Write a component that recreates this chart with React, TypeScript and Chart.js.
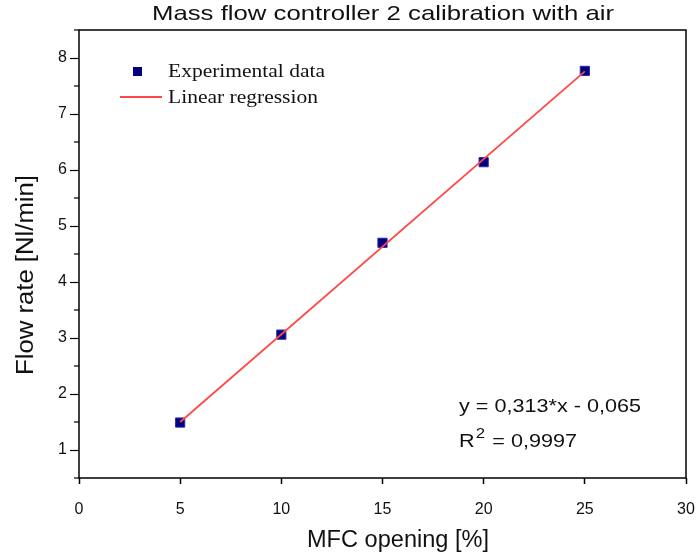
import { useEffect, useRef } from 'react';
import { Chart, registerables } from 'chart.js';
Chart.register(...registerables);

const titleText = 'Mass flow controller 2 calibration with air';
const xAxisTitle = 'MFC opening [%]';
const yAxisTitle = 'Flow rate [Nl/min]';
const mfcOpening = [5, 10, 15, 20, 25];
const flowRate = [1.49, 3.06, 4.7, 6.14, 7.77];
const fitX = [5, 25];
const fitY = [1.5, 7.76];
const seriesNames = ['Experimental data', 'Linear regression'];
const equationText = 'y = 0,313*x - 0,065';
const r2Text = '= 0,9997';

const SANS = '"Liberation Sans", Arial, sans-serif';
const SERIF = '"Liberation Serif", "Times New Roman", serif';
const POINT_FILL = '#000080';
const POINT_BORDER = '#2a2aa8';
const LINE_COLOR = 'rgb(255,72,72)';

function fitText(ctx: CanvasRenderingContext2D, text: string, x: number, y: number, width: number, align: CanvasTextAlign) {
  const w = ctx.measureText(text).width;
  ctx.save();
  ctx.translate(x, y);
  ctx.scale(width / w, 1);
  ctx.textAlign = align;
  ctx.fillText(text, 0, 0);
  ctx.restore();
}

export default function App() {
  const ref = useRef<HTMLCanvasElement>(null);
  useEffect(() => {
    if (!ref.current) return;
    const overlay = {
      id: 'overlay',
      afterDraw(chart: any) {
        const ctx = chart.ctx as CanvasRenderingContext2D;
        const { left, right, top, bottom } = chart.chartArea;
        const ys = chart.scales.y;
        ctx.save();
        // frame
        ctx.strokeStyle = '#000';
        ctx.lineWidth = 1.5;
        ctx.strokeRect(left, top, right - left, bottom - top);
        // minor y ticks
        ctx.lineWidth = 1.2;
        for (let v = ys.min; v <= ys.max + 1e-9; v += 1) {
          if (Number.isInteger(v)) continue;
          const py = ys.getPixelForValue(v);
          ctx.beginPath();
          ctx.moveTo(left - 5, py);
          ctx.lineTo(left, py);
          ctx.stroke();
        }
        ctx.fillStyle = '#111';
        ctx.textBaseline = 'middle';
        // title
        ctx.font = `21px ${SANS}`;
        fitText(ctx, titleText, 383, 14, 462, 'center');
        // axis titles
        ctx.font = `23px ${SANS}`;
        fitText(ctx, xAxisTitle, 398, 541, 182, 'center');
        ctx.save();
        ctx.translate(27, 275);
        ctx.rotate(-Math.PI / 2);
        fitText(ctx, yAxisTitle, 0, 0, 200, 'center');
        ctx.restore();
        // legend
        ctx.fillStyle = POINT_FILL;
        ctx.fillRect(133, 67, 9, 9);
        ctx.strokeStyle = LINE_COLOR;
        ctx.lineWidth = 2;
        ctx.beginPath();
        ctx.moveTo(120, 97);
        ctx.lineTo(162, 97);
        ctx.stroke();
        ctx.fillStyle = '#111';
        ctx.font = `18px ${SERIF}`;
        fitText(ctx, seriesNames[0], 168, 72, 157, 'left');
        fitText(ctx, seriesNames[1], 168, 98, 150, 'left');
        // equation
        ctx.font = `18px ${SANS}`;
        fitText(ctx, equationText, 459, 407, 182, 'left');
        ctx.save();
        ctx.translate(459, 0);
        ctx.scale(1.2, 1);
        ctx.textAlign = 'left';
        ctx.fillText('R', 0, 442);
        const rw = ctx.measureText('R').width;
        ctx.font = `14px ${SANS}`;
        ctx.fillText('2', rw + 1, 434);
        const sw = ctx.measureText('2').width;
        ctx.font = `18px ${SANS}`;
        ctx.fillText(' ' + r2Text, rw + sw + 2, 442);
        ctx.restore();
        ctx.restore();
      },
    };
    const chart = new Chart(ref.current, {
      type: 'scatter',
      data: {
        datasets: [
          {
            type: 'line',
            label: seriesNames[1],
            data: fitX.map((x, i) => ({ x, y: fitY[i] })),
            borderColor: LINE_COLOR,
            borderWidth: 1.8,
            pointRadius: 0,
            showLine: true,
            fill: false,
          },
          {
            label: seriesNames[0],
            data: mfcOpening.map((x, i) => ({ x, y: flowRate[i] })),
            pointStyle: 'rect',
            pointRadius: 6.5,
            backgroundColor: POINT_FILL,
            borderColor: POINT_BORDER,
            borderWidth: 1,
          },
        ],
      },
      options: {
        animation: false,
        responsive: true,
        maintainAspectRatio: false,
        layout: { padding: { top: 30, right: 11, left: 0, bottom: 0 } },
        plugins: { legend: { display: false }, title: { display: false }, tooltip: { enabled: false } },
        scales: {
          x: {
            type: 'linear',
            min: 0,
            max: 30,
            afterFit: (s: any) => { s.height = 82; s.paddingRight = 0; s.paddingLeft = 0; },
            border: { display: false },
            grid: { drawOnChartArea: false, drawTicks: true, tickLength: 6, tickColor: '#000', tickWidth: 1.5 },
            ticks: { stepSize: 5, padding: 16, color: '#111', font: { family: SANS, size: 16 }, maxRotation: 0 },
          },
          y: {
            type: 'linear',
            min: 0.5,
            max: 8.5,
            afterFit: (s: any) => { s.width = 79; s.paddingTop = 0; s.paddingBottom = 0; },
            border: { display: false },
            grid: {
              drawOnChartArea: false,
              drawTicks: true,
              tickLength: 9,
              tickWidth: 1.2,
              tickColor: (c: any) => (Number.isInteger(c.tick.value) ? '#000' : 'rgba(0,0,0,0)'),
            },
            ticks: {
              stepSize: 0.5,
              autoSkip: false,
              padding: 3,
              color: '#111',
              font: { family: SANS, size: 16 },
              callback: (v: any) => (Number.isInteger(v) ? String(v) : ''),
            },
          },
        },
      },
      plugins: [overlay],
    });
    return () => chart.destroy();
  }, []);
  return (
    <div style={{ position: 'fixed', left: 0, top: 0, width: 697, height: 560, background: '#fff' }}>
      <canvas ref={ref} />
    </div>
  );
}
